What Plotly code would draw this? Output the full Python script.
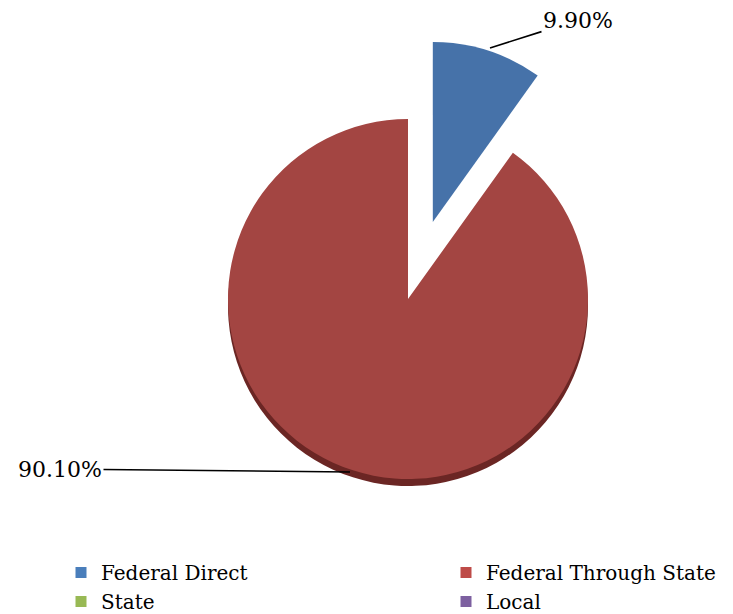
import plotly.graph_objects as go

labels = ["Federal Direct", "Federal Through State", "State", "Local"]
values = [9.90, 90.10, 0, 0]
colors = ["#4672A9", "#A34542", "#9BBB59", "#8064A2"]
legend_colors = ["#4A7EBB", "#BE4B48", "#98B954", "#7D60A0"]
shadow_colors = ["rgba(0,0,0,0)", "#6B2624", "rgba(0,0,0,0)", "rgba(0,0,0,0)"]
pulls = [0.45, 0, 0, 0]
label_texts = ["9.90%", "90.10%"]
legend_slots = ["legend", "legend2", "legend", "legend2"]

W, H = 733, 614
FONT = "DejaVu Serif"

# pie geometry (pixels in figure coordinates)
cx, cy, r = 400, 291, 180
half = r * (1 + max(pulls))
dx0, dx1 = (cx - half) / W, (cx + half) / W
dy0, dy1 = 1 - (cy + half) / H, 1 - (cy - half) / H
shift = 7 / H

fig = go.Figure()
fig.add_trace(go.Pie(
    labels=labels, values=values, sort=False, direction="clockwise", rotation=0,
    pull=pulls, marker=dict(colors=shadow_colors, line=dict(width=0)),
    textinfo="none", hoverinfo="skip", showlegend=False,
    domain=dict(x=[dx0, dx1], y=[dy0 - shift, dy1 - shift]),
))
fig.add_trace(go.Pie(
    labels=labels, values=values, sort=False, direction="clockwise", rotation=0,
    pull=pulls, marker=dict(colors=colors, line=dict(width=0)),
    textinfo="none", hoverinfo="label+percent", showlegend=False,
    domain=dict(x=[dx0, dx1], y=[dy0, dy1]),
))

for i, (lab, col, slot) in enumerate(zip(labels, legend_colors, legend_slots)):
    fig.add_trace(go.Scatter(
        x=[None], y=[None], mode="markers", name=lab, legend=slot,
        legendgroup=f"g{i}",
        marker=dict(symbol="square", size=11, color=col),
    ))

fig.add_annotation(x=482 / W, y=1 - 40 / H, xref="paper", yref="paper",
                   text=label_texts[0], showarrow=True, arrowhead=0, arrowwidth=1.6,
                   arrowcolor="black", ax=88, ay=-28,
                   font=dict(family=FONT, size=22, color="black"))
fig.add_annotation(x=342 / W, y=1 - 464 / H, xref="paper", yref="paper",
                   text=label_texts[1], showarrow=True, arrowhead=0, arrowwidth=1.6,
                   arrowcolor="black", ax=-290, ay=-3,
                   font=dict(family=FONT, size=22, color="black"))

leg_common = dict(orientation="v", yanchor="top", xanchor="left", traceorder="normal",
                  font=dict(family=FONT, size=20, color="black"), itemwidth=30,
                  tracegroupgap=7, bgcolor="rgba(0,0,0,0)")
fig.update_layout(
    width=W, height=H,
    margin=dict(l=0, r=0, t=0, b=0, autoexpand=False),
    paper_bgcolor="white", plot_bgcolor="white",
    font=dict(family=FONT, size=20, color="black"),
    xaxis=dict(visible=False), yaxis=dict(visible=False),
    legend=dict(x=53 / W, y=1 - 545 / H, **leg_common),
    legend2=dict(x=438 / W, y=1 - 545 / H, **leg_common),
)
fig.write_html("out.html")
